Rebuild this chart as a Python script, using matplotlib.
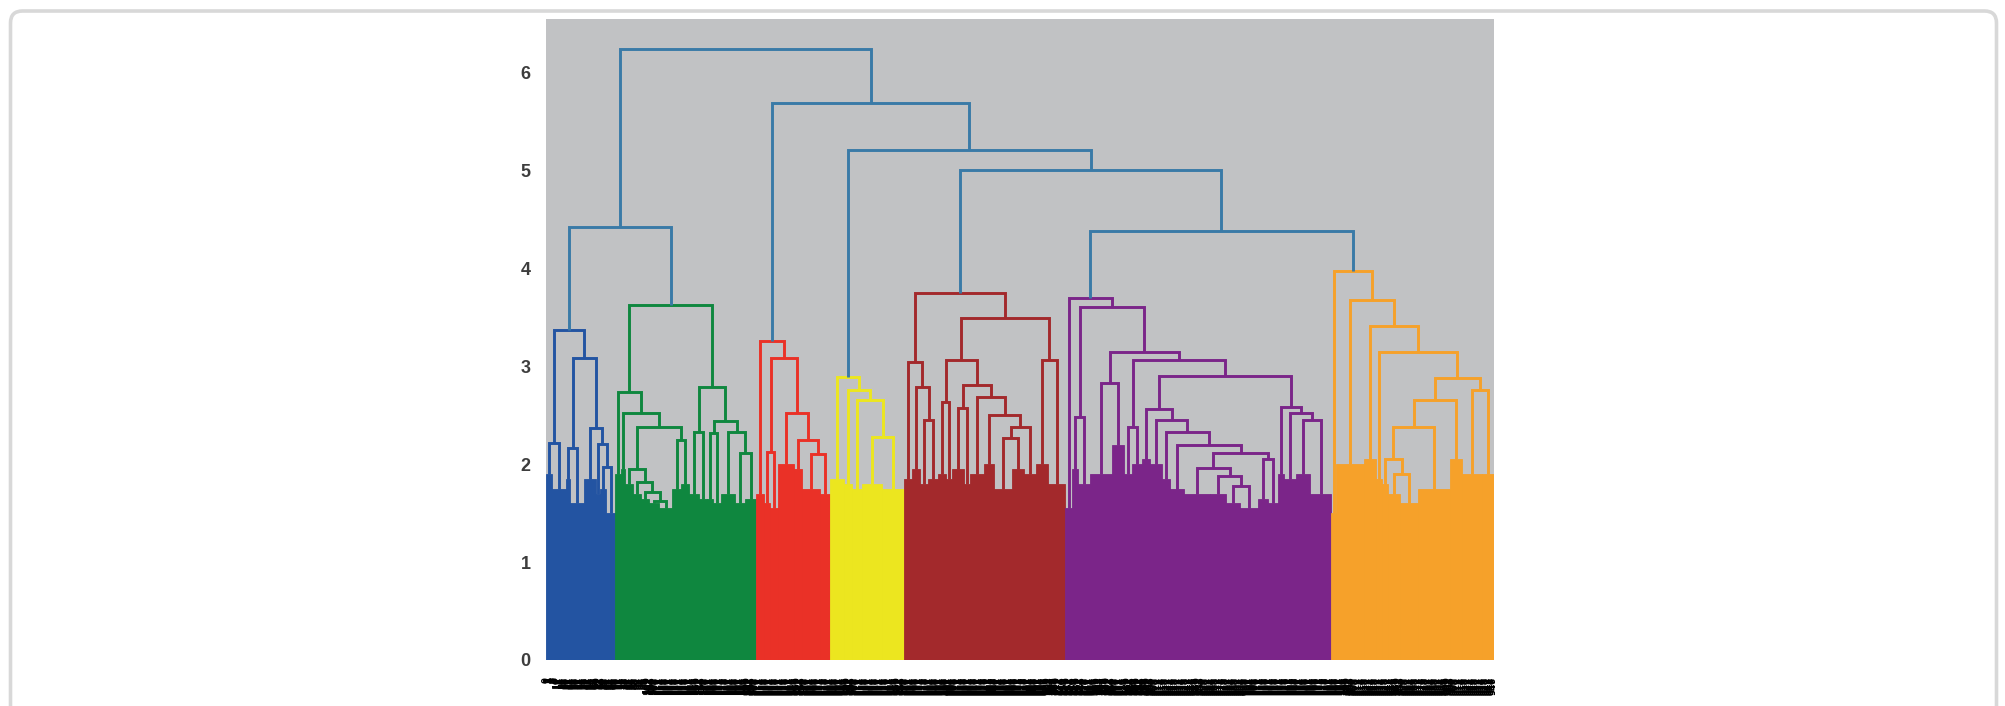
import numpy as np
import matplotlib
matplotlib.use("Agg")
import matplotlib.pyplot as plt
from matplotlib.patches import FancyBboxPatch
from matplotlib.collections import LineCollection

# ------------------------------------------------------------------ data
cluster_names = ["blue", "green", "red", "yellow", "brown", "purple", "orange"]
cluster_colors = {
    "blue": "#2354a2",
    "green": "#0f873f",
    "red": "#ea3127",
    "yellow": "#ece61f",
    "brown": "#a3292c",
    "purple": "#7b2589",
    "orange": "#f6a12a",
}
above_color = "#3a7aa7"

# leaves in each dense bundle (left to right) and height reached by its dense part
blue_leaves = [6, 14, 4, 14, 12, 4, 6, 9]
blue_fill = [1.90, 1.75, 1.85, 1.60, 1.85, 1.70, 1.75, 1.50]
# merges: (height, left, right); ints are bundle indices
blue_tree = (3.37, (2.22, 0, 1), (3.09, (2.17, 2, 3), (2.37, 4, (2.21, 5, (1.97, 6, 7)))))

green_leaves = [6, 4, 8, 8, 8, 10, 13, 9, 8, 10, 8, 6, 8, 14, 10, 11]
green_fill = [1.90, 1.95, 1.80, 1.70, 1.65, 1.60, 1.55, 1.75, 1.80, 1.70, 1.65, 1.65,
              1.60, 1.70, 1.60, 1.65]
green_tree = (3.63,
              (2.74, 0, (2.52, 1, (2.38, (1.95, 2, (1.82, 3, (1.72, 4, (1.62, 5, 6)))),
                                    (2.25, 7, 8)))),
              (2.79, (2.33, 9, 10), (2.44, (2.32, 11, 12), (2.33, 13, (2.12, 14, 15)))))

red_leaves = [8, 6, 8, 16, 8, 18, 10]
red_fill = [1.70, 1.60, 1.55, 2.00, 1.95, 1.75, 1.70]
red_tree = (3.26, 0, (3.09, (2.13, 1, 2), (2.52, 3, (2.25, 4, (2.10, 5, 6)))))

yellow_leaves = [14, 8, 10, 20, 22]
yellow_fill = [1.85, 1.80, 1.75, 1.80, 1.75]
yellow_tree = (2.89, 0, (2.76, 1, (2.66, 2, (2.28, 3, 4))))

brown_leaves = [8, 8, 8, 10, 8, 6, 12, 6, 14, 10, 18, 12, 12, 12, 17]
brown_fill = [1.85, 1.95, 1.80, 1.85, 1.90, 1.85, 1.95, 1.80, 1.90, 2.00, 1.75, 1.95,
              1.90, 2.00, 1.80]
brown_tree = (3.75,
              (3.05, 0, (2.79, 1, (2.45, 2, 3))),
              (3.49,
               (3.07, (2.64, 4, 5),
                (2.81, (2.58, 6, 7), (2.69, 8, (2.50, 9, (2.38, (2.27, 10, 11), 12))))),
               (3.07, 13, 14)))

purple_leaves = [7, 6, 12, 22, 12, 8, 10, 8, 12, 8, 14, 26, 16, 14, 18, 10, 10, 6, 12, 14, 21]
purple_fill = [1.55, 1.95, 1.80, 1.90, 2.20, 1.90, 2.00, 2.05, 2.00, 1.85, 1.75, 1.70,
               1.70, 1.60, 1.55, 1.65, 1.60, 1.90, 1.85, 1.90, 1.70]
purple_tree = (3.70, 0,
               (3.61, (2.48, 1, 2),
                (3.15, (2.83, 3, 4),
                 (3.07, (2.38, 5, 6),
                  (2.90,
                   (2.56, 7, (2.45, 8, (2.33, 9, (2.20, 10,
                    (2.12, (1.96, 11, (1.88, 12, (1.78, 13, 14))), (2.05, 15, 16)))))),
                   (2.59, 17, (2.52, 18, (2.45, 19, 20))))))))

orange_leaves = [5, 28, 12, 6, 6, 12, 18, 32, 12, 20, 12]
orange_fill = [1.50, 2.00, 2.05, 1.85, 1.80, 1.70, 1.60, 1.75, 2.05, 1.90, 1.90]
orange_tree = (3.97, 0, (3.68, 1, (3.41, 2, (3.15, 3,
               (2.88, (2.66, (2.38, (2.05, 4, (1.90, 5, 6)), 7), 8), (2.76, 9, 10))))))

# merges above the colour threshold
top_tree = (6.24, (4.42, "blue", "green"),
            (5.69, "red", (5.21, "yellow", (5.01, "brown", (4.38, "purple", "orange")))))

y_ticks = [0, 1, 2, 3, 4, 5, 6]

clusters = {
    "blue": (blue_leaves, blue_fill, blue_tree),
    "green": (green_leaves, green_fill, green_tree),
    "red": (red_leaves, red_fill, red_tree),
    "yellow": (yellow_leaves, yellow_fill, yellow_tree),
    "brown": (brown_leaves, brown_fill, brown_tree),
    "purple": (purple_leaves, purple_fill, purple_tree),
    "orange": (orange_leaves, orange_fill, orange_tree),
}
n_leaves = sum(sum(clusters[n][0]) for n in cluster_names)
leaf_labels = [str(i) for i in range(n_leaves)]

# ------------------------------------------------------------------ figure
W, H = 2005, 706
fig = plt.figure(figsize=(W / 100, H / 100), dpi=100)
fig.patch.set_facecolor("white")

# light rounded frame around the panel
frame = FancyBboxPatch((0.105, -1.0), 19.86, 7.95,
                       boxstyle="round,pad=0,rounding_size=0.12",
                       transform=fig.dpi_scale_trans, facecolor="none",
                       edgecolor="#d8d8d8", linewidth=2.6, zorder=0)
fig.add_artist(frame)

ax = fig.add_axes([546 / W, 1 - 660 / H, (1494 - 546) / W, (660 - 19) / H])
ax.set_facecolor("#c1c2c4")
for s in ax.spines.values():
    s.set_visible(False)

LW = 2.1
offset = 0
cluster_top = {}
for name in cluster_names:
    leaves, fill, tree = clusters[name]
    col = cluster_colors[name]
    leaves = np.asarray(leaves)
    starts = offset + np.concatenate([[0], np.cumsum(leaves)[:-1]])
    x_left = 10.0 * starts
    widths = 10.0 * leaves
    ax.bar(x_left, fill, width=widths, align="edge", color=col,
           edgecolor=col, linewidth=0.6, zorder=2)
    centers = x_left + widths / 2.0
    segs = []

    def walk(node):
        if isinstance(node, int):
            return centers[node], fill[node]
        h, l, r = node
        xl, hl = walk(l)
        xr, hr = walk(r)
        segs.append([(xl, hl), (xl, h), (xr, h), (xr, hr)])
        return (xl + xr) / 2.0, h

    cluster_top[name] = walk(tree)
    ax.add_collection(LineCollection(segs, colors=col, linewidths=LW,
                                     joinstyle="miter", capstyle="butt", zorder=3))
    offset += int(leaves.sum())

top_segs = []


def walk_top(node):
    if isinstance(node, str):
        return cluster_top[node]
    h, l, r = node
    xl, hl = walk_top(l)
    xr, hr = walk_top(r)
    top_segs.append([(xl, hl), (xl, h), (xr, h), (xr, hr)])
    return (xl + xr) / 2.0, h


walk_top(top_tree)
ax.add_collection(LineCollection(top_segs, colors=above_color, linewidths=LW,
                                 joinstyle="miter", capstyle="butt", zorder=3))

ax.set_xlim(0, 10 * n_leaves)
ax.set_ylim(0, 6.55)

ax.set_yticks(y_ticks)
ax.set_yticklabels([str(t) for t in y_ticks], fontsize=13, fontweight="bold",
                   color="#3d3d3d", family="Liberation Sans")
ax.tick_params(axis="y", length=0, pad=11)

ax.set_xticks(5 + 10 * np.arange(n_leaves))
ax.set_xticklabels(leaf_labels, rotation=90, fontsize=6.2, fontweight="bold",
                   color="black", family="DejaVu Sans")
ax.tick_params(axis="x", length=0, pad=12)

fig.savefig("out.png", dpi=100, facecolor="white")
